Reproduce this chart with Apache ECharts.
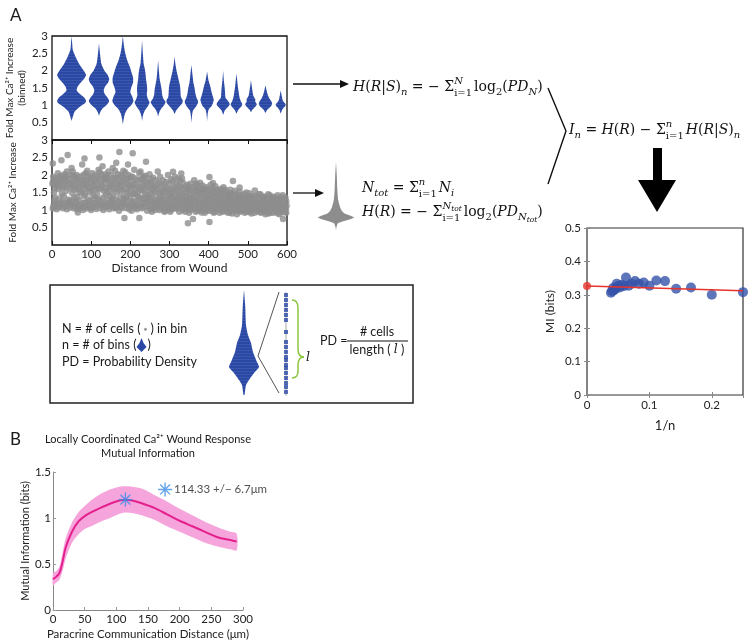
<!DOCTYPE html>
<html>
<head>
<meta charset="utf-8">
<title>Ca2+ wound response - mutual information</title>
<script src="https://cdn.jsdelivr.net/npm/echarts@6/dist/echarts.min.js"></script>
<style>
  html, body { margin: 0; padding: 0; background: #fff; }
  #main { width: 748px; height: 641px; }
</style>
</head>
<body>
<div id="main"></div>
<script>
// ---------- data ----------
// binned violins: centre (distance from wound) and [value, half width] profile
var violinCenters = [50, 120, 181, 230, 271, 313, 356, 396, 437, 471, 508, 545, 584];
var violinProfiles = [
  [[0.55,0],[0.7,4],[0.82,8],[0.95,20],[1.05,33],[1.12,37],[1.22,33],[1.32,22],[1.43,13],[1.55,16],[1.65,23],[1.78,33],[1.88,37],[2.0,31],[2.2,19],[2.4,10],[2.6,3],[2.8,1.5],[3.0,0]],
  [[0.7,0],[0.8,3],[0.92,10],[1.02,20],[1.12,26],[1.22,22],[1.32,15],[1.43,12],[1.55,16],[1.65,23],[1.75,26],[1.88,22],[2.0,14],[2.2,6],[2.45,3],[2.79,0]],
  [[0.45,0],[0.6,2],[0.75,5],[0.9,12],[1.02,22],[1.12,27],[1.25,24],[1.38,19],[1.5,21],[1.65,26],[1.8,26],[1.95,22],[2.1,18],[2.3,11],[2.5,6],[2.7,3],[3.0,0]],
  [[0.55,0],[0.7,2],[0.85,7],[0.98,15],[1.08,19],[1.18,15],[1.3,12],[1.45,13],[1.6,12],[1.75,10],[1.9,9],[2.05,7],[2.2,4],[2.5,2],[2.88,0]],
  [[0.68,0],[0.8,3],[0.92,9],[1.02,16],[1.1,19],[1.2,13],[1.32,10],[1.45,9],[1.58,7],[1.75,4],[2.0,2],[2.3,0]],
  [[0.75,0],[0.85,4],[0.95,11],[1.05,19],[1.13,21],[1.25,16],[1.4,15],[1.55,14],[1.7,11],[1.85,8],[2.0,5],[2.2,2],[2.4,0]],
  [[0.5,0],[0.7,1.5],[0.85,4],[0.95,11],[1.05,16],[1.12,17],[1.22,13],[1.35,10],[1.5,8],[1.65,5],[1.85,3],[2.16,0]],
  [[0.55,0],[0.75,1.5],[0.88,4],[0.97,11],[1.07,15],[1.17,17],[1.28,14],[1.4,11],[1.55,8],[1.7,4],[1.97,0]],
  [[0.72,0],[0.85,4],[0.95,12],[1.03,17],[1.12,13],[1.22,6],[1.35,5],[1.5,4],[1.7,2],[2.0,0]],
  [[0.76,0],[0.86,4],[0.95,11],[1.03,15],[1.12,11],[1.22,8],[1.35,6],[1.5,4],[1.7,2],[1.92,0]],
  [[0.8,0],[0.88,4],[0.96,11],[1.03,15],[1.1,11],[1.18,11],[1.28,6],[1.4,4],[1.55,2],[1.72,0]],
  [[0.78,0],[0.88,5],[0.96,13],[1.04,17],[1.12,15],[1.2,10],[1.3,6],[1.42,3],[1.58,0]],
  [[0.76,0],[0.88,4],[0.96,10],[1.02,13],[1.08,9],[1.15,5],[1.25,3],[1.43,0]]
];

// single cells: [distance from wound, fold max Ca2+ increase]
var cellPoints = [
  [2,2.33],[3,1.82],[1,1.75],[4,1.12],[2,1.05],[5,1.5],[3,1.95],
  [11,1.88],[13,1.78],[12,1.68],[10,1.2],[14,1.1],[12,1.02],[9,1.35],[15,2.05],
  [24,2.42],[26,1.9],[23,1.8],[27,1.62],[25,1.45],[22,1.15],[28,1.05],[26,1.25],[24,1.98],
  [40,2.57],[36,1.85],[38,2.1],[39,1.7],[37,1.55],[41,1.3],[35,1.12],[38,1.02],[42,1.2],[36,1.95],
  [50,2.2],[53,1.98],[51,1.8],[54,1.65],[52,1.48],[49,1.15],[55,1.05],[51,1.28],[53,2.1],
  [66,0.93],[64,1.9],[67,1.75],[63,2.0],[66,1.6],[65,1.38],[68,1.1],[62,1.22],[64,1.02],
  [77,2.3],[80,2.0],[78,1.85],[79,1.7],[76,1.52],[81,1.2],[77,1.08],[79,1.0],[82,1.4],
  [83,2.47],[91,1.95],[89,1.78],[92,1.62],[90,1.12],[88,1.04],[93,1.3],[90,2.12],
  [102,1.88],[104,1.72],[101,1.55],[105,1.2],[103,1.08],[100,1.0],[106,1.4],[103,2.05],
  [121,2.5],[116,1.95],[114,1.8],[117,1.62],[115,1.45],[118,1.15],[113,1.03],[117,1.3],[119,2.15],
  [129,2.25],[131,1.9],[128,1.7],[132,1.55],[130,1.35],[129,1.12],[131,1.0],[133,1.22],[127,2.0],
  [142,1.85],[145,1.65],[141,1.5],[144,1.28],[143,1.1],[146,1.02],[140,1.95],[144,2.1],
  [155,2.2],[157,1.92],[154,1.75],[158,1.58],[156,1.4],[155,1.18],[157,1.05],[153,1.3],
  [172,2.66],[164,2.35],[168,1.85],[170,1.7],[166,1.5],[169,1.25],[167,1.1],[171,0.98],[168,2.02],
  [185,0.77],[180,1.95],[182,1.78],[179,1.6],[183,1.42],[181,1.2],[178,1.06],[184,1.32],[182,2.12],
  [194,2.3],[193,1.88],[196,1.7],[192,1.52],[195,1.15],[197,1.02],[191,1.35],[195,2.0],
  [206,2.62],[205,1.95],[208,1.75],[204,1.62],[207,1.45],[206,1.25],[209,1.1],[203,0.98],[210,2.15],
  [223,0.77],[219,1.85],[221,1.65],[218,1.5],[222,1.3],[220,1.12],[217,1.02],[223,2.05],[219,1.4],
  [240,2.38],[232,1.9],[234,1.7],[231,1.55],[235,1.35],[233,1.18],[230,1.05],[236,1.95],
  [245,1.8],[247,1.62],[244,1.45],[248,1.25],[246,1.1],[243,0.98],[249,2.02],[245,1.35],
  [258,1.92],[257,1.72],[259,1.55],[256,1.38],[260,1.2],[258,1.05],[255,0.95],[261,1.65],
  [270,2.1],[272,1.78],[269,1.6],[273,1.45],[271,1.3],[270,1.12],[274,1.0],[268,1.22],
  [283,1.85],[285,1.68],[282,1.52],[286,1.4],[284,1.18],[283,1.05],[287,0.95],[281,1.3],
  [296,2.0],[298,1.75],[295,1.58],[299,1.42],[297,1.28],[296,1.1],[300,1.0],[294,1.2],
  [309,2.09],[308,1.82],[310,1.65],[307,1.5],[311,1.35],[309,1.15],[306,1.02],[312,1.25],
  [330,2.04],[321,1.9],[323,1.7],[320,1.55],[324,1.4],[322,1.2],[319,1.05],[325,0.95],[321,1.3],
  [334,1.78],[336,1.6],[333,1.45],[337,1.3],[335,1.12],[334,1.0],[338,1.22],[332,1.9],
  [347,0.62],[346,1.72],[348,1.55],[345,1.38],[349,1.2],[347,1.05],[350,0.92],[344,1.28],[348,1.62],
  [360,0.74],[359,1.65],[361,1.48],[358,1.35],[362,1.15],[360,1.02],[357,1.25],[363,1.85],
  [371,1.6],[373,1.45],[370,1.3],[374,1.12],[372,0.98],[375,1.22],[369,1.75],[373,1.52],
  [384,1.7],[386,1.52],[383,1.38],[387,1.2],[385,1.05],[382,0.93],[388,1.28],[384,1.6],
  [402,1.94],[402,0.66],[396,1.55],[398,1.4],[395,1.25],[399,1.1],[397,0.98],[400,1.32],[394,1.65],
  [411,1.77],[409,1.5],[412,1.35],[408,1.2],[410,1.05],[413,0.92],[407,1.42],[411,1.62],
  [421,1.58],[423,1.42],[420,1.28],[424,1.12],[422,1.0],[419,1.2],[425,1.5],
  [434,1.55],[436,1.38],[433,1.22],[437,1.08],[435,0.95],[432,1.3],[438,1.65],[435,1.15],
  [447,1.5],[449,1.32],[446,1.18],[450,1.05],[448,0.93],[445,1.25],[451,1.42],
  [462,1.83],[459,1.48],[461,1.3],[458,1.15],[463,1.02],[460,0.9],[457,1.38],[462,1.22],
  [471,1.45],[473,1.3],[470,1.12],[474,1.0],[472,0.88],[469,1.2],[475,1.38],
  [479,1.64],[483,1.42],[485,1.25],[482,1.1],[486,0.98],[484,1.18],[481,1.32],
  [496,1.5],[498,1.35],[495,1.2],[499,1.08],[497,0.95],[494,1.28],[500,1.15],
  [508,1.4],[510,1.25],[507,1.12],[511,1.0],[509,0.9],[506,1.32],[512,1.18],
  [518,1.56],[520,1.38],[522,1.22],[519,1.08],[523,0.97],[521,1.15],[517,1.3],
  [532,1.45],[534,1.28],[531,1.12],[535,1.02],[533,0.92],[530,1.2],[536,1.36],
  [544,1.38],[546,1.22],[543,1.1],[547,0.98],[545,0.88],[542,1.3],[548,1.15],
  [556,1.42],[558,1.25],[555,1.12],[559,1.02],[557,0.92],[554,1.18],[560,1.32],
  [568,1.3],[570,1.15],[567,1.05],[571,0.95],[569,1.22],[566,1.38],[572,1.08],
  [580,1.35],[582,1.2],[579,1.08],[583,0.98],[581,0.88],[578,1.15],[584,1.28],
  [590,0.74],[591,1.3],[593,1.15],[590,1.05],[594,0.95],[592,1.22],[589,1.42],[595,1.1],
  [598,1.25],[599,1.12],[597,1.02],[598,0.92],[596,1.35],
  // in-between cells of the dense cloud
  [7,1.16],[6,1.27],[8,1.62],[7,1.9],[6,1.08],[8,1.72],
  [18,1.08],[19,1.18],[17,1.6],[18,1.72],[20,1.85],[19,1.95],[18,1.3],
  [31,1.1],[32,1.2],[30,1.68],[31,1.78],[33,1.92],[32,2.02],[30,1.4],
  [45,1.07],[46,1.17],[44,1.25],[45,1.62],[46,1.75],[44,1.88],[47,2.0],
  [58,1.1],[59,1.2],[57,1.58],[58,1.72],[60,1.86],[59,1.95],[57,1.35],
  [71,1.06],[72,1.16],[70,1.28],[71,1.65],[73,1.82],[72,1.95],[70,1.5],
  [85,1.1],[86,1.22],[84,1.6],[85,1.72],[87,1.85],[86,2.05],[84,1.45],
  [97,1.06],[98,1.15],[96,1.26],[97,1.65],[99,1.8],[98,1.95],[96,1.5],
  [110,1.1],[111,1.2],[109,1.58],[110,1.7],[112,1.85],[111,2.0],[109,1.35],
  [123,1.06],[124,1.16],[122,1.28],[123,1.6],[125,1.75],[124,1.88],[122,2.08],
  [136,1.08],[137,1.18],[135,1.62],[136,1.78],[138,1.9],[137,1.42],[135,2.02],
  [149,1.12],[150,1.22],[148,1.55],[149,1.7],[151,1.82],[150,2.0],[148,1.4],
  [162,1.06],[163,1.16],[161,1.3],[162,1.62],[164,1.75],[163,1.92],[161,2.12],
  [175,1.1],[176,1.2],[174,1.55],[175,1.68],[177,1.82],[176,2.0],[174,1.35],
  [188,1.06],[189,1.15],[187,1.27],[188,1.6],[190,1.75],[189,1.9],[187,2.08],
  [200,1.1],[201,1.2],[199,1.5],[200,1.68],[202,1.82],[201,1.95],[199,1.35],
  [213,1.06],[214,1.16],[212,1.25],[213,1.58],[215,1.72],[214,1.9],[212,1.45],
  [227,1.08],[228,1.2],[226,1.35],[227,1.58],[229,1.75],[228,1.88],[226,2.1],
  [239,1.1],[240,1.22],[238,1.45],[239,1.62],[241,1.78],[240,1.3],[238,1.98],
  [252,1.02],[253,1.14],[251,1.28],[252,1.45],[254,1.6],[253,1.75],[251,1.88],
  [264,1.08],[265,1.18],[263,1.3],[264,1.5],[266,1.68],[265,1.85],[263,1.0],
  [277,1.05],[278,1.15],[276,1.25],[277,1.38],[279,1.55],[278,1.72],[276,1.95],
  [290,1.06],[291,1.16],[289,1.3],[290,1.5],[292,1.62],[291,1.8],[289,0.97],
  [303,1.08],[304,1.18],[302,1.35],[303,1.48],[305,1.6],[304,1.88],[302,0.95],
  [315,1.04],[316,1.12],[314,1.28],[315,1.42],[317,1.58],[316,1.75],[314,1.95],
  [328,1.08],[329,1.15],[327,1.25],[328,1.35],[330,1.5],[329,1.65],[327,1.85],
  [341,1.06],[342,1.14],[340,1.25],[341,1.38],[343,1.52],[342,1.68],[340,0.95],
  [353,1.1],[354,1.18],[352,1.3],[353,1.45],[355,1.58],[354,1.75],[352,1.0],
  [366,1.06],[367,1.15],[365,1.38],[366,1.55],[368,1.7],[367,0.95],[365,1.25],
  [379,1.08],[380,1.15],[378,1.3],[379,1.45],[381,1.6],[380,1.0],[378,1.78],
  [391,1.02],[392,1.12],[390,1.2],[391,1.35],[393,1.48],[392,1.6],[390,0.92],
  [404,1.08],[405,1.15],[403,1.28],[404,1.45],[406,1.58],[405,1.72],[403,0.98],
  [416,1.05],[417,1.15],[415,1.25],[416,1.38],[418,1.52],[417,1.68],[415,0.95],
  [429,1.02],[430,1.12],[428,1.2],[429,1.35],[431,1.48],[430,1.6],[428,0.92],
  [441,1.05],[442,1.15],[440,1.22],[441,1.35],[443,1.45],[442,1.58],[440,0.98],
  [454,1.0],[455,1.1],[453,1.2],[454,1.32],[456,1.45],[455,1.58],[453,0.92],
  [466,0.98],[467,1.08],[465,1.18],[466,1.28],[468,1.42],[467,1.55],
  [478,1.05],[479,1.15],[477,1.25],[478,1.38],[480,0.95],[479,1.52],
  [490,1.02],[491,1.12],[489,1.22],[490,1.35],[492,0.92],[491,1.45],
  [503,1.02],[504,1.12],[502,1.22],[503,1.35],[505,0.95],[504,1.48],
  [515,1.05],[516,1.15],[514,1.25],[515,1.4],[517,0.92],
  [527,1.02],[528,1.1],[526,1.2],[527,1.3],[529,0.95],[528,1.45],
  [539,1.05],[540,1.15],[538,1.25],[539,1.38],[541,0.94],
  [551,1.0],[552,1.1],[550,1.2],[551,1.3],[553,0.9],[552,1.45],
  [563,1.02],[564,1.12],[562,1.22],[563,1.35],[565,0.92],
  [575,1.0],[576,1.1],[574,1.2],[575,1.3],[577,0.9],[576,1.42],
  [587,1.02],[588,1.12],[586,1.22],[587,1.35],[589,0.94]
];

// pooled distribution (grey spike), [value, half width px]
var pooledProfile = [[0.5,0],[0.62,0.6],[0.75,2],[0.85,10],[0.95,18],[1.02,15],[1.1,9],[1.2,6],[1.35,4],[1.6,2.2],[2.0,1.3],[2.5,0.8],[3.0,0]];

// legend icon: one violin and its cells along a line
var legendViolinProfile = [[0,0.5],[0.095,2],[0.143,5],[0.21,10],[0.267,15],[0.314,13],[0.41,9],[0.495,7],[0.571,4],[0.667,2],[0.85,1.2],[1.0,0]];
var legendDotLevels = [0.952,0.905,0.857,0.81,0.762,0.714,0.6,0.505,0.457,0.41,0.362,0.333,0.286,0.257,0.21,0.162,0.114,0.076,0.029];

// MI vs 1/n
var nBins = [4,5,6,7,8,9,10,11,12,13,14,15,16,17,18,19,20,21,22,23,24,25,26];
var miValues = [0.308,0.300,0.322,0.318,0.341,0.343,0.327,0.337,0.333,0.341,0.333,0.327,0.352,0.326,0.330,0.322,0.326,0.333,0.318,0.314,0.320,0.311,0.306];
var miFit = [[0, 0.326], [0.25, 0.312]];

// panel B: MI vs paracrine communication distance
var distX  = [0, 5, 10, 15, 20, 30, 40, 50, 60, 75, 90, 105, 114, 125, 140, 160, 180, 200, 220, 240, 260, 280, 290];
var miMean = [0.335,0.36,0.40,0.52,0.68,0.85,0.96,1.02,1.06,1.11,1.155,1.19,1.198,1.19,1.16,1.11,1.04,0.97,0.91,0.85,0.79,0.76,0.745];
var miUpper = [0.40,0.42,0.47,0.62,0.78,0.95,1.06,1.13,1.19,1.26,1.31,1.34,1.345,1.34,1.32,1.25,1.18,1.10,1.03,0.96,0.90,0.85,0.83];
var miLower = [0.27,0.30,0.33,0.42,0.56,0.73,0.82,0.88,0.91,0.96,1.00,1.045,1.06,1.055,1.03,0.98,0.91,0.85,0.79,0.73,0.69,0.66,0.65];
var peakPoint = [114.33, 1.2];
var peakLabelPoint = [177, 1.31];
var peakText = '114.33 +/\u2212 6.7\u03bcm';

// ---------- helpers ----------
var SANS = 'Lato';
var SERIF = 'DejaVu Serif';
var BLUE = '#2a48a4';

function stripePattern(base, stripe) {
  var c = document.createElement('canvas');
  c.width = 4; c.height = 3;
  var g = c.getContext('2d');
  g.fillStyle = base; g.fillRect(0, 0, 4, 3);
  g.fillStyle = stripe; g.fillRect(0, 2, 4, 1);
  return { image: c, repeat: 'repeat' };
}

function violinRender(centers, profiles, fill) {
  return function (params, api) {
    var cx = centers[params.dataIndex], prof = profiles[params.dataIndex];
    var pts = [];
    prof.forEach(function (p) { pts.push(api.coord([cx + p[1], p[0]])); });
    for (var k = prof.length - 1; k >= 0; k--) pts.push(api.coord([cx - prof[k][1], prof[k][0]]));
    return { type: 'polygon', shape: { points: pts, smooth: 0.2 }, style: { fill: fill } };
  };
}

var measureCtx = document.createElement('canvas').getContext('2d');
function textW(str, size, style, family) {
  measureCtx.font = (style || 'normal') + ' ' + size + 'px "' + family + '"';
  return measureCtx.measureText(str).width;
}

// equation token styles
var tok = {
  i:      { size: 14, style: 'italic', dy: 0 },
  r:      { size: 14, style: 'normal', dy: 0 },
  sub:    { size: 10, style: 'italic', dy: 5 },
  subr:   { size: 10, style: 'normal', dy: 5 },
  subsub: { size: 7.5, style: 'italic', dy: 8 },
  sup:    { size: 10, style: 'italic', dy: -6 },
  supsub: { size: 7.5, style: 'italic', dy: -3 },
  lim:    { size: 10, style: 'normal', dy: 6 }
};

function runTokens(list, x, y, out) {
  list.forEach(function (t) {
    var s = tok[t[0]];
    out.push({ type: 'text', x: x, y: y + s.dy, style: {
      text: t[1], fontFamily: SERIF, fontSize: s.size, fontStyle: s.style,
      fill: '#111', verticalAlign: 'middle', align: 'left' } });
    x += textW(t[1], s.size, s.style, SERIF);
  });
  return x;
}

function equation(x, y, parts) {
  var out = [];
  parts.forEach(function (p) {
    if (p.sup) {
      var x1 = runTokens(p.sup, x, y, out);
      var x2 = runTokens(p.sub, x, y, out);
      x = Math.max(x1, x2) + 2;
    } else {
      x = runTokens([p], x, y, out);
    }
  });
  return out;
}

var eqs = []
  .concat(equation(353, 87, [
    ['i','H'],['r','('],['i','R'],['r','|'],['i','S'],['r',')'],['sub','n'],['r',' = \u2212 \u03a3'],
    { sup: [['sup','N']], sub: [['lim','i=1']] },
    ['r','log'],['subr','2'],['r','('],['i','PD'],['sub','N'],['r',')']]))
  .concat(equation(362, 188, [
    ['i','N'],['sub','tot'],['r',' = \u03a3'],
    { sup: [['sup','n']], sub: [['lim','i=1']] },
    ['i','N'],['sub','i']]))
  .concat(equation(362, 212, [
    ['i','H'],['r','('],['i','R'],['r',')'],['r',' = \u2212 \u03a3'],
    { sup: [['sup','N'],['supsub','tot']], sub: [['lim','i=1']] },
    ['r','log'],['subr','2'],['r','('],['i','PD'],['sub','N'],['subsub','tot'],['r',')']]))
  .concat(equation(569, 130, [
    ['i','I'],['sub','n'],['r',' = '],['i','H'],['r','('],['i','R'],['r',')'],['r',' \u2212 \u03a3'],
    { sup: [['sup','n']], sub: [['lim','i=1']] },
    ['i','H'],['r','('],['i','R'],['r','|'],['i','S'],['r',')'],['sub','n']]));

function label(x, y, text, size, extra) {
  var st = { text: text, fontFamily: SANS, fontSize: size, fill: '#1a1a1a', verticalAlign: 'middle', align: 'left' };
  for (var k in extra) st[k] = extra[k];
  return { type: 'text', x: x, y: y, style: st };
}

var lineStyle = { stroke: '#111', lineWidth: 1.3 };
var arrowParts = [
  { type: 'line', shape: { x1: 293, y1: 84, x2: 341, y2: 84 }, style: lineStyle },
  { type: 'polygon', shape: { points: [[340, 80], [349, 84], [340, 88]] }, style: { fill: '#111' } },
  { type: 'line', shape: { x1: 293, y1: 193, x2: 316, y2: 193 }, style: lineStyle },
  { type: 'polygon', shape: { points: [[315, 189], [324, 193], [315, 197]] }, style: { fill: '#111' } },
  { type: 'polyline', shape: { points: [[548, 88], [566, 131], [548, 184]] }, style: { stroke: '#111', lineWidth: 1.4, fill: null } },
  { type: 'rect', shape: { x: 653, y: 148, width: 9, height: 36 }, style: { fill: '#000' } },
  { type: 'polygon', shape: { points: [[638, 180], [676, 180], [657, 212]] }, style: { fill: '#000' } }
];

// legend box
var legendFont = 12.5;
var binsText = 'n = # of bins (';
var binsW = textW(binsText, legendFont, 'normal', SANS);
var braceStyle = { stroke: '#8cc63f', lineWidth: 1.5, fill: null };
var legendParts = [
  { type: 'rect', shape: { x: 50, y: 285, width: 363, height: 118 }, style: { fill: null, stroke: '#222', lineWidth: 1.5 } },
  label(62, 329, 'N = # of cells ( {d|\u25cf} ) in bin', legendFont, { rich: { d: { fontSize: 6, fill: '#9a9a9a', fontFamily: SANS } } }),
  label(62, 345, binsText, legendFont),
  { type: 'polygon', shape: { points: [[62 + binsW + 5, 338], [62 + binsW + 7, 343], [62 + binsW + 10, 347], [62 + binsW + 5, 352], [62 + binsW, 347], [62 + binsW + 3, 343]] }, style: { fill: BLUE } },
  label(62 + binsW + 11, 345, ')', legendFont),
  label(62, 362, 'PD = Probability Density', legendFont),
  { type: 'polyline', shape: { points: [[279, 292], [258, 356], [279, 393]] }, style: { stroke: '#555', lineWidth: 1, fill: null } },
  { type: 'line', shape: { x1: 286, y1: 292, x2: 286, y2: 396 }, style: { stroke: '#aaa', lineWidth: 1 } },
  { type: 'bezierCurve', shape: { x1: 292, y1: 300, x2: 298, y2: 308, cpx1: 298, cpy1: 300 }, style: braceStyle },
  { type: 'line', shape: { x1: 298, y1: 308, x2: 298, y2: 349 }, style: braceStyle },
  { type: 'bezierCurve', shape: { x1: 298, y1: 349, x2: 304, y2: 357, cpx1: 298, cpy1: 357 }, style: braceStyle },
  { type: 'bezierCurve', shape: { x1: 304, y1: 357, x2: 298, y2: 365, cpx1: 298, cpy1: 357 }, style: braceStyle },
  { type: 'line', shape: { x1: 298, y1: 365, x2: 298, y2: 371 }, style: braceStyle },
  { type: 'bezierCurve', shape: { x1: 298, y1: 371, x2: 292, y2: 378, cpx1: 298, cpy1: 378 }, style: braceStyle },
  label(306, 358, 'l', legendFont, { fontStyle: 'italic', fontFamily: SERIF }),
  label(320, 341, 'PD =', legendFont),
  label(377, 332, '# cells', legendFont, { align: 'center' }),
  { type: 'line', shape: { x1: 347, y1: 341, x2: 408, y2: 341 }, style: { stroke: '#111', lineWidth: 1 } },
  label(377, 350, 'length ( {l|l} )', legendFont, { align: 'center', rich: { l: { fontStyle: 'italic', fontFamily: SERIF, fontSize: legendFont } } })
];

var titles = [
  label(10, 16, 'A', 17),
  label(10, 440, 'B', 17),
  label(148, 439, 'Locally Coordinated Ca\u00b2\u207a Wound Response', 11, { align: 'center' }),
  label(148, 453, 'Mutual Information', 11, { align: 'center' })
];

var starPath = 'path://M-1,-10L1,-10L1,10L-1,10Z M-10,-1L10,-1L10,1L-10,1Z M-7.7,-6.3L-6.3,-7.7L7.7,6.3L6.3,7.7Z M6.3,-7.7L7.7,-6.3L-6.3,7.7L-7.7,6.3Z';

var axisFont = { fontFamily: SANS, fontSize: 11.5, color: '#222' };
function hideZero(v) { return v === 0 ? '' : v; }

var chart = echarts.init(document.getElementById('main'));
chart.setOption({
  animation: false,
  backgroundColor: '#fff',
  grid: [
    { left: 52, top: 36, width: 235, height: 104, show: true, borderColor: '#111', borderWidth: 1.3 },
    { left: 52, top: 140, width: 235, height: 105, show: true, borderColor: '#111', borderWidth: 1.3 },
    { left: 587, top: 228, width: 156, height: 167, show: true, borderColor: '#333', borderWidth: 1.2 },
    { left: 53, top: 472, width: 190, height: 141 },
    { left: 316, top: 162, width: 40, height: 68 },
    { left: 226, top: 290, width: 70, height: 105 }
  ],
  xAxis: [
    { gridIndex: 0, type: 'value', min: 0, max: 600, interval: 100, axisLabel: { show: false }, axisLine: { show: false }, axisTick: { show: false }, splitLine: { show: false } },
    { gridIndex: 1, type: 'value', min: 0, max: 600, interval: 100, axisLine: { show: false }, splitLine: { show: false },
      axisTick: { inside: true, length: 4, lineStyle: { color: '#111' } }, axisLabel: Object.assign({ margin: 3 }, axisFont),
      name: 'Distance from Wound', nameLocation: 'middle', nameGap: 17, nameTextStyle: { fontFamily: SANS, fontSize: 12, color: '#222' } },
    { gridIndex: 1, type: 'value', position: 'top', min: 0, max: 600, interval: 100, axisLabel: { show: false }, axisLine: { show: false }, splitLine: { show: false },
      axisTick: { inside: true, length: 4, lineStyle: { color: '#111' } } },
    { gridIndex: 2, type: 'value', min: 0, max: 0.25, interval: 0.1, axisLine: { show: false }, splitLine: { show: false },
      axisTick: { inside: true, length: 3, lineStyle: { color: '#888' } }, axisLabel: Object.assign({ margin: 4, showMaxLabel: false }, axisFont),
      name: '1/n', nameLocation: 'middle', nameGap: 24, nameTextStyle: { fontFamily: SANS, fontSize: 13, color: '#222' } },
    { gridIndex: 2, type: 'value', position: 'top', min: 0, max: 0.25, interval: 0.1, axisLabel: { show: false }, axisLine: { show: false }, splitLine: { show: false },
      axisTick: { inside: true, length: 3, lineStyle: { color: '#888' } } },
    { gridIndex: 3, type: 'value', min: 0, max: 300, interval: 50, splitLine: { show: false },
      axisLine: { lineStyle: { color: '#888', width: 1 } }, axisTick: { inside: true, length: 3, lineStyle: { color: '#999' } },
      axisLabel: Object.assign({ margin: 3 }, axisFont),
      name: 'Paracrine Communication Distance (\u03bcm)', nameLocation: 'middle', nameGap: 18, nameTextStyle: { fontFamily: SANS, fontSize: 11.5, color: '#222' } },
    { gridIndex: 4, type: 'value', min: -20, max: 20, show: false },
    { gridIndex: 5, type: 'value', min: 0, max: 70, show: false }
  ],
  yAxis: [
    { gridIndex: 0, type: 'value', min: 0, max: 3, interval: 0.5, axisLine: { show: false }, axisTick: { show: false }, splitLine: { show: false },
      axisLabel: Object.assign({ margin: 4, formatter: hideZero }, axisFont),
      name: 'Fold Max Ca\u00b2\u207a Increase\n(binned)', nameLocation: 'middle', nameRotate: 90, nameGap: 22,
      nameTextStyle: { fontFamily: SANS, fontSize: 10, lineHeight: 12, color: '#222' } },
    { gridIndex: 1, type: 'value', min: 0, max: 3, interval: 0.5, axisLine: { show: false }, axisTick: { show: false }, splitLine: { show: false },
      axisLabel: Object.assign({ margin: 4, formatter: hideZero }, axisFont),
      name: 'Fold Max Ca\u00b2\u207a Increase', nameLocation: 'middle', nameRotate: 90, nameGap: 34,
      nameTextStyle: { fontFamily: SANS, fontSize: 10, color: '#222' } },
    { gridIndex: 2, type: 'value', min: 0, max: 0.5, interval: 0.1, axisLine: { show: false }, splitLine: { show: false },
      axisTick: { inside: true, length: 3, lineStyle: { color: '#888' } }, axisLabel: Object.assign({ margin: 6 }, axisFont),
      name: 'MI (bits)', nameLocation: 'middle', nameRotate: 90, nameGap: 31, nameTextStyle: { fontFamily: SANS, fontSize: 12, color: '#222' } },
    { gridIndex: 2, type: 'value', position: 'right', min: 0, max: 0.5, interval: 0.1, axisLabel: { show: false }, axisLine: { show: false }, splitLine: { show: false },
      axisTick: { inside: true, length: 3, lineStyle: { color: '#888' } } },
    { gridIndex: 3, type: 'value', min: 0, max: 1.5, interval: 0.5, splitLine: { show: false },
      axisLine: { show: true, lineStyle: { color: '#888', width: 1 } }, axisTick: { inside: true, length: 3, lineStyle: { color: '#999' } },
      axisLabel: Object.assign({ margin: 2 }, axisFont),
      name: 'Mutual Information (bits)', nameLocation: 'middle', nameRotate: 90, nameGap: 18, nameTextStyle: { fontFamily: SANS, fontSize: 11, color: '#222' } },
    { gridIndex: 4, type: 'value', min: 0.5, max: 3, show: false },
    { gridIndex: 5, type: 'value', min: 0, max: 1, show: false }
  ],
  series: [
    { type: 'custom', name: 'binned', xAxisIndex: 0, yAxisIndex: 0,
      renderItem: violinRender(violinCenters, violinProfiles, stripePattern(BLUE, '#3a57ae')),
      data: violinCenters.map(function (c) { return [c, 1.5]; }) },
    { type: 'scatter', name: 'cells', xAxisIndex: 1, yAxisIndex: 1, symbolSize: 6.5, large: false,
      itemStyle: { color: '#8d8d8d' }, data: cellPoints },
    { type: 'custom', name: 'pooled', xAxisIndex: 6, yAxisIndex: 5,
      renderItem: violinRender([0], [pooledProfile], '#8d8d8d'), data: [[0, 1]] },
    { type: 'custom', name: 'legend violin', xAxisIndex: 7, yAxisIndex: 6,
      renderItem: violinRender([18], [legendViolinProfile], stripePattern(BLUE, '#3a57ae')), data: [[18, 0.5]] },
    { type: 'scatter', name: 'legend cells', xAxisIndex: 7, yAxisIndex: 6, symbol: 'rect', symbolSize: 4,
      itemStyle: { color: BLUE }, data: legendDotLevels.map(function (v) { return [60, v]; }) },
    { type: 'line', name: 'fit', xAxisIndex: 3, yAxisIndex: 2, data: miFit, symbol: 'none',
      lineStyle: { color: '#e8322b', width: 1.5 } },
    { type: 'scatter', name: 'MI', xAxisIndex: 3, yAxisIndex: 2, symbolSize: 10,
      itemStyle: { color: '#3552a9' }, data: nBins.map(function (n, i) { return [1 / n, miValues[i]]; }) },
    { type: 'scatter', name: 'extrapolated', xAxisIndex: 3, yAxisIndex: 2, symbolSize: 8, clip: false,
      itemStyle: { color: '#e8322b' }, data: [miFit[0]] },
    { type: 'custom', name: 'band', xAxisIndex: 5, yAxisIndex: 4,
      renderItem: function (params, api) {
        var pts = [];
        distX.forEach(function (x, i) { pts.push(api.coord([x, miUpper[i]])); });
        for (var k = distX.length - 1; k >= 0; k--) pts.push(api.coord([distX[k], miLower[k]]));
        return { type: 'polygon', shape: { points: pts, smooth: 0.3 }, style: { fill: '#f6a4dc' } };
      },
      data: [[0, 0]] },
    { type: 'line', name: 'MI mean', xAxisIndex: 5, yAxisIndex: 4, smooth: 0.3, showSymbol: false,
      lineStyle: { color: '#e3208c', width: 2 },
      data: distX.map(function (x, i) { return [x, miMean[i]]; }) },
    { type: 'scatter', name: 'peak', xAxisIndex: 5, yAxisIndex: 4, symbol: starPath, symbolSize: 14,
      itemStyle: { color: '#3b8de8' }, data: [peakPoint], z: 5 },
    { type: 'scatter', name: 'peak label', xAxisIndex: 5, yAxisIndex: 4, symbol: starPath, symbolSize: 14, clip: false,
      itemStyle: { color: '#3b8de8' }, data: [peakLabelPoint],
      label: { show: true, position: 'right', distance: 2, formatter: peakText, fontFamily: SANS, fontSize: 11.5, color: '#222' } }
  ],
  graphic: { elements: titles.concat(arrowParts, eqs, legendParts) }
});
</script>
</body>
</html>
